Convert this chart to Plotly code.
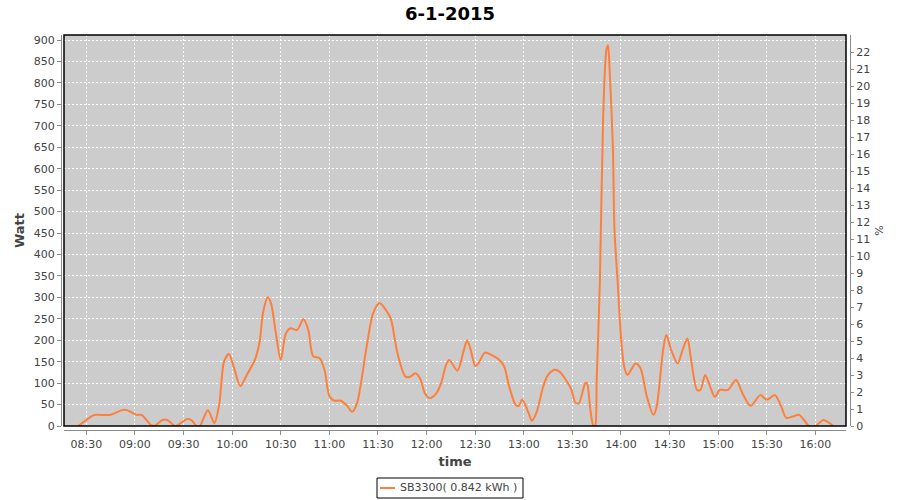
import plotly.graph_objects as go

# ---- data ----
times = ["08:25", "08:34", "08:36", "08:45", "08:52", "08:55", "09:01", "09:04", "09:10", "09:12",
         "09:17", "09:20", "09:25", "09:32", "09:35", "09:38", "09:40", "09:45", "09:49", "09:52",
         "09:55", "09:58", "10:01", "10:05", "10:09", "10:14", "10:17", "10:19", "10:22", "10:24",
         "10:27", "10:30", "10:33", "10:36", "10:40", "10:44", "10:47", "10:50", "10:54", "10:57",
         "11:00", "11:03", "11:07", "11:11", "11:14", "11:17", "11:23", "11:27", "11:31", "11:35",
         "11:38", "11:42", "11:47", "11:50", "11:53", "11:56", "11:59", "12:02", "12:06", "12:09",
         "12:12", "12:14", "12:19", "12:23", "12:25", "12:27", "12:30", "12:32", "12:36", "12:40",
         "12:45", "12:48", "12:51", "12:55", "12:57", "12:59", "13:03", "13:05", "13:08", "13:12",
         "13:15", "13:19", "13:22", "13:29", "13:32", "13:34", "13:38", "13:39", "13:41", "13:43",
         "13:44", "13:45", "13:47", "13:49", "13:51", "13:52", "13:53", "13:55", "13:56", "13:58",
         "14:00", "14:02", "14:04", "14:09", "14:12", "14:16", "14:20", "14:22", "14:26", "14:28",
         "14:31", "14:35", "14:38", "14:41", "14:43", "14:47", "14:49", "14:52", "14:55", "14:58",
         "15:01", "15:06", "15:11", "15:15", "15:20", "15:26", "15:30", "15:35", "15:39", "15:42",
         "15:46", "15:50", "15:53", "15:56", "16:00", "16:05", "16:09", "16:11"]
watts = [0, 24, 26, 26, 37, 37, 26, 26, 2, 0,
         14, 14, 0, 16, 13, 0, 0, 37, 7, 50,
         150, 168, 138, 93, 119, 154, 197, 263, 300, 286,
         216, 154, 214, 228, 224, 249, 224, 163, 158, 131,
         70, 59, 59, 47, 33, 52, 185, 263, 287, 270,
         249, 170, 115, 115, 123, 111, 76, 65, 76, 100,
         142, 154, 129, 177, 200, 181, 140, 146, 171, 166,
         154, 138, 92, 49, 47, 62, 30, 12, 33, 92,
         119, 131, 127, 88, 54, 53, 100, 100, 41, 0,
         0, 107, 340, 721, 877, 888, 830, 651, 457, 333,
         208, 138, 119, 146, 135, 68, 26, 45, 177, 212,
         177, 146, 177, 204, 162, 84, 84, 119, 92, 68,
         84, 84, 107, 76, 47, 72, 61, 72, 45, 19,
         22, 26, 14, 0, 0, 14, 6, 0]

day = "2015-06-01"
title_text = "6-1-2015"
series_name = "SB3300( 0.842 kWh )"
tick_labels_x = ["08:30", "09:00", "09:30", "10:00", "10:30", "11:00", "11:30", "12:00",
                 "12:30", "13:00", "13:30", "14:00", "14:30", "15:00", "15:30", "16:00"]
watt_ticks = list(range(0, 901, 50))
pct_ticks = list(range(0, 23))

x = [f"{day} {t}" for t in times]
tickvals_x = [f"{day} {t}" for t in tick_labels_x]

FONT = "DejaVu Sans"
LINE_COLOR = "#FF7F3A"
AX_GRAY = "#8C8C8C"
TXT = "#444444"

fig = go.Figure()
fig.add_trace(go.Scatter(
    x=x, y=watts, mode="lines", name=series_name, showlegend=False,
    line=dict(color=LINE_COLOR, width=2, shape="spline", smoothing=0.8),
))
# invisible trace so the right-hand % axis is drawn
fig.add_trace(go.Scatter(
    x=[x[0]], y=[None], yaxis="y2", mode="lines", showlegend=False,
    hoverinfo="skip", line=dict(color="rgba(0,0,0,0)"),
))

W, H = 900, 500
ml, mr, mt, mb = 61, 50, 35, 70
pw = W - ml - mr
ph = H - mt - mb


def px_x(p):
    return (p - ml) / pw


def px_y(p):
    return (H - mb - p) / ph


fig.update_layout(
    width=W, height=H,
    margin=dict(l=ml, r=mr, t=mt, b=mb, autoexpand=False),
    paper_bgcolor="white",
    plot_bgcolor="#CCCCCC",
    font=dict(family=FONT, size=11, color=TXT),
    showlegend=False,
    title=dict(text=f"<b>{title_text}</b>", x=0.5, xanchor="center",
               y=1 - 14 / H, yanchor="middle", yref="container",
               font=dict(family=FONT, size=18, color="black")),
    xaxis=dict(
        type="date",
        domain=[3 / pw, 1 - 4 / pw],
        anchor="free", position=0,
        range=[f"{day} 08:16:12", f"{day} 16:18:54"],
        tickvals=tickvals_x, ticktext=tick_labels_x,
        showgrid=True, gridcolor="white", griddash="2px,2px", gridwidth=1,
        showline=True, linecolor=AX_GRAY, linewidth=1,
        ticks="outside", ticklen=4, tickcolor=AX_GRAY,
        tickfont=dict(family=FONT, size=11, color=TXT),
        title=dict(text="<b>time</b>", standoff=6,
                   font=dict(family=FONT, size=13, color=TXT)),
        zeroline=False, automargin=False, fixedrange=True,
    ),
    yaxis=dict(
        domain=[4 / ph, 1],
        anchor="free", position=0,
        range=[0, 911.7],
        tickvals=watt_ticks,
        showgrid=True, gridcolor="white", griddash="2px,2px", gridwidth=1,
        showline=True, linecolor=AX_GRAY, linewidth=1,
        ticks="outside", ticklen=4, tickcolor=AX_GRAY,
        tickfont=dict(family=FONT, size=11, color=TXT),
        title=dict(text="<b>Watt</b>", standoff=5,
                   font=dict(family=FONT, size=13, color=TXT)),
        zeroline=False, automargin=False, fixedrange=True,
    ),
    yaxis2=dict(
        overlaying="y", side="right",
        anchor="free", position=1,
        range=[0, 23.0],
        tickvals=pct_ticks,
        showgrid=False,
        showline=True, linecolor=AX_GRAY, linewidth=1,
        ticks="outside", ticklen=3, tickcolor=AX_GRAY,
        tickfont=dict(family=FONT, size=11, color=TXT),
        title=dict(text="%", standoff=6,
                   font=dict(family=FONT, size=11, color=TXT)),
        zeroline=False, automargin=False, fixedrange=True,
    ),
)

# black frame around the data area
fig.add_shape(type="rect", xref="x domain", yref="y domain",
              x0=0, x1=1, y0=0, y1=1,
              line=dict(color="black", width=1.5), layer="above")

# legend box (drawn by hand to match the compact reference legend)
fig.add_shape(type="rect", xref="paper", yref="paper",
              x0=px_x(377), x1=px_x(523), y0=px_y(498), y1=px_y(478),
              line=dict(color="black", width=1), fillcolor="white")
fig.add_shape(type="line", xref="paper", yref="paper",
              x0=px_x(380), x1=px_x(395), y0=px_y(488), y1=px_y(488),
              line=dict(color=LINE_COLOR, width=2))
fig.add_annotation(text=series_name, xref="paper", yref="paper",
                   x=px_x(398), y=px_y(488), xanchor="left", yanchor="middle",
                   showarrow=False, font=dict(family=FONT, size=11, color=TXT))

fig.write_html("out.html",
               config={"displayModeBar": False},
               post_script="document.body.style.margin='0';document.body.style.padding='0';")
